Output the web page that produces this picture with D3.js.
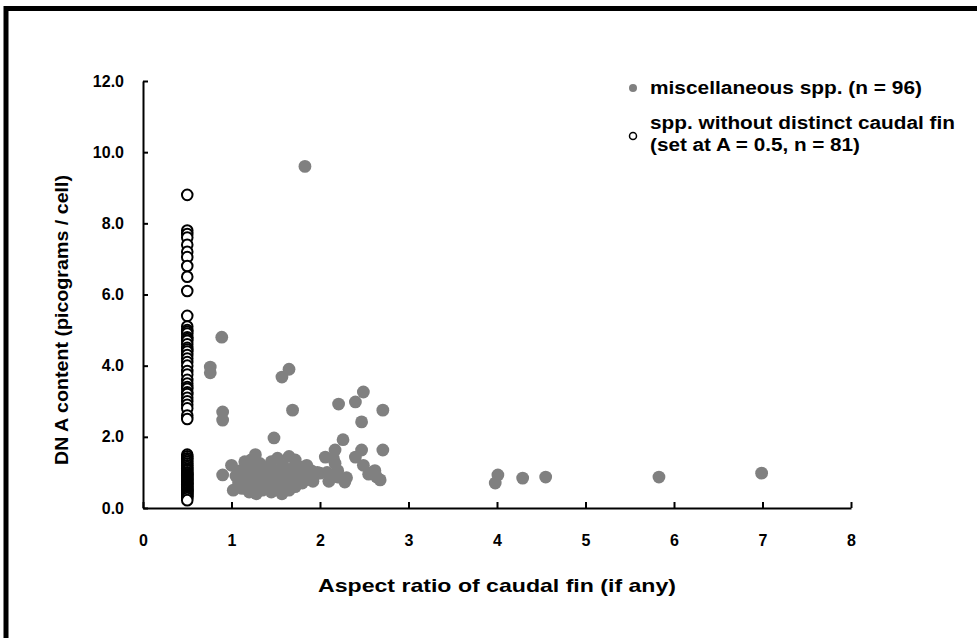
<!DOCTYPE html>
<html>
<head>
<meta charset="utf-8">
<script src="https://cdn.jsdelivr.net/npm/d3@7/dist/d3.min.js"></script>
<style>
  body { margin: 0; background: #fff; }
  text { font-family: "Liberation Sans", Arial, sans-serif; font-weight: bold; fill: #000; }
</style>
</head>
<body>
<svg id="chart" width="977" height="638"></svg>
<script>
// tick values
const xTicks = [0, 1, 2, 3, 4, 5, 6, 7, 8];
const yTicks = [0, 2, 4, 6, 8, 10, 12];

// spp. without distinct caudal fin, all set at A = 0.5 (n = 81)
const noFinA = 0.5;
const noFinDNA = [
  8.8, 7.8, 7.7, 7.6, 7.4, 7.2, 7.05, 6.8, 6.5, 6.1, 5.4,
  5.1, 5.0, 4.95, 4.9, 4.8, 4.75, 4.7, 4.6, 4.5, 4.45, 4.4, 4.3, 4.2, 4.1, 4.0,
  3.85, 3.75, 3.6, 3.5, 3.4, 3.35, 3.25, 3.2, 3.1, 3.0, 2.9, 2.8, 2.6, 2.5,
  1.5, 1.45, 1.4, 1.35, 1.3, 1.25, 1.2, 1.15, 1.1, 1.08, 1.05, 1.0, 0.98, 0.95,
  0.92, 0.9, 0.88, 0.85, 0.82, 0.8, 0.78, 0.75, 0.72, 0.7, 0.68, 0.65, 0.62,
  0.6, 0.58, 0.55, 0.52, 0.5, 0.48, 0.45, 0.42, 0.4, 0.38, 0.35, 0.32, 0.28, 0.22
];

// miscellaneous spp. [aspect ratio, DNA] (n = 96)
const miscSpp = [
  [1.83, 9.6], [0.89, 4.8], [0.76, 3.96], [0.76, 3.8], [0.9, 2.7], [0.9, 2.47],
  [1.57, 3.68], [1.65, 3.9], [1.69, 2.75], [1.48, 1.97], [2.21, 2.92], [2.4, 2.98],
  [2.49, 3.26], [2.47, 2.42], [2.71, 2.75], [2.71, 1.63], [2.26, 1.92], [2.17, 1.63],
  [2.06, 1.43], [2.17, 1.26], [2.2, 0.87], [2.28, 0.73], [2.47, 1.63], [2.4, 1.43],
  [2.49, 1.2], [2.59, 1.0], [2.64, 0.87], [2.68, 0.79], [2.0, 0.98], [4.01, 0.93],
  [3.98, 0.7], [4.29, 0.84], [4.55, 0.87], [5.83, 0.87], [6.99, 0.98], [0.9, 0.93],
  [1.0, 1.2], [1.02, 0.5], [1.05, 0.9], [1.08, 0.7], [1.1, 1.05], [1.12, 0.55],
  [1.15, 0.85], [1.15, 1.3], [1.18, 0.65], [1.2, 1.0], [1.2, 0.45], [1.22, 1.35],
  [1.25, 0.75], [1.25, 1.15], [1.27, 1.5], [1.28, 0.4], [1.3, 0.95], [1.3, 0.6],
  [1.32, 1.25], [1.35, 0.8], [1.35, 0.5], [1.38, 1.1], [1.4, 0.65], [1.42, 0.9],
  [1.45, 1.3], [1.45, 0.45], [1.48, 0.75], [1.5, 1.05], [1.52, 1.4], [1.52, 0.55],
  [1.55, 0.85], [1.57, 0.4], [1.58, 1.2], [1.6, 0.65], [1.62, 0.95], [1.65, 1.45],
  [1.65, 0.5], [1.68, 1.1], [1.7, 0.75], [1.72, 1.35], [1.72, 0.6], [1.75, 0.9],
  [1.78, 1.15], [1.8, 0.7], [1.82, 1.0], [1.85, 1.2], [1.85, 0.8], [1.88, 0.9],
  [1.9, 1.05], [1.92, 0.75], [1.95, 0.95], [1.97, 1.0], [2.08, 1.0], [2.15, 1.4],
  [2.2, 1.05], [2.3, 0.85], [2.1, 0.75], [2.55, 0.95], [2.62, 1.05], [1.1, 0.95]
];

const svg = d3.select("#chart");

// frame (only top and left edges show in the picture)
svg.append("path")
  .attr("d", "M6,638 V8.5 H977")
  .attr("fill", "none")
  .attr("stroke", "#000")
  .attr("stroke-width", 5);

const x = d3.scaleLinear().domain([0, 8]).range([143, 851]);
const y = d3.scaleLinear().domain([0, 12]).range([508, 81]);

// axes, ticks point inward
const xAxis = svg.append("g")
  .attr("transform", `translate(0,${y(0)})`)
  .call(d3.axisBottom(x).tickValues(xTicks).tickFormat(d3.format("d"))
    .tickSizeInner(-6).tickSizeOuter(0).tickPadding(27));
const yAxis = svg.append("g")
  .attr("transform", `translate(${x(0)},0)`)
  .call(d3.axisLeft(y).tickValues(yTicks).tickFormat(d3.format(".1f"))
    .tickSizeInner(-5).tickSizeOuter(0).tickPadding(19));

[xAxis, yAxis].forEach(a => {
  a.select(".domain").attr("stroke", "#000").attr("stroke-width", 2);
  a.selectAll(".tick line").attr("stroke", "#000").attr("stroke-width", 2);
  a.selectAll("text").attr("font-size", 16).attr("font-family", null);
});

// filled points
svg.append("g")
  .selectAll("circle")
  .data(miscSpp)
  .join("circle")
    .attr("cx", d => x(d[0]))
    .attr("cy", d => y(d[1]))
    .attr("r", 6.4)
    .attr("fill", "#808080");

// open circles at A = 0.5
svg.append("g")
  .selectAll("circle")
  .data(noFinDNA)
  .join("circle")
    .attr("cx", x(noFinA))
    .attr("cy", d => y(d))
    .attr("r", 5.3)
    .attr("fill", "#fff")
    .attr("stroke", "#000")
    .attr("stroke-width", 2);

// axis titles
svg.append("text")
  .attr("x", 497)
  .attr("y", 592)
  .attr("text-anchor", "middle")
  .attr("font-size", 19)
  .attr("textLength", 358)
  .attr("lengthAdjust", "spacingAndGlyphs")
  .text("Aspect ratio of caudal fin (if any)");

svg.append("text")
  .attr("transform", "translate(68,320) rotate(-90)")
  .attr("text-anchor", "middle")
  .attr("font-size", 19)
  .attr("textLength", 290)
  .attr("lengthAdjust", "spacingAndGlyphs")
  .text("DN A content (picograms / cell)");

// legend
const lg = svg.append("g");
lg.append("circle").attr("cx", 633).attr("cy", 88).attr("r", 4).attr("fill", "#808080");
lg.append("text").attr("x", 650).attr("y", 94).attr("font-size", 18)
  .attr("textLength", 272).attr("lengthAdjust", "spacingAndGlyphs")
  .text("miscellaneous spp. (n = 96)");
lg.append("circle").attr("cx", 633).attr("cy", 136).attr("r", 3.5)
  .attr("fill", "#fff").attr("stroke", "#000").attr("stroke-width", 1.5);
lg.append("text").attr("x", 650).attr("y", 129).attr("font-size", 18)
  .attr("textLength", 305).attr("lengthAdjust", "spacingAndGlyphs")
  .text("spp. without distinct caudal fin");
lg.append("text").attr("x", 650).attr("y", 151).attr("font-size", 18)
  .attr("textLength", 210).attr("lengthAdjust", "spacingAndGlyphs")
  .text("(set at A = 0.5, n = 81)");
</script>
</body>
</html>
